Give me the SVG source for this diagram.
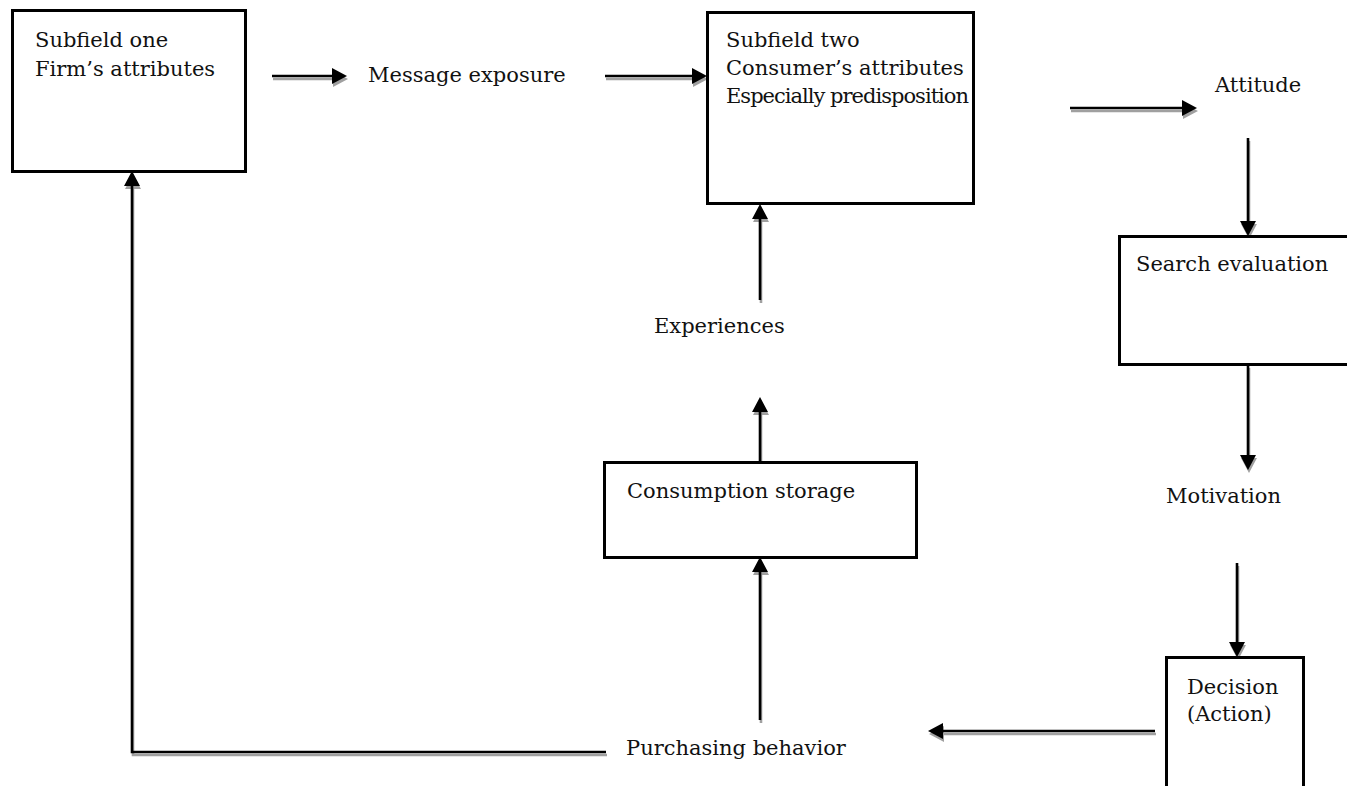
<svg xmlns="http://www.w3.org/2000/svg" width="1347" height="786" viewBox="0 0 1347 786">
  <style>
    .box { fill: #ffffff; stroke: #000000; stroke-width: 3; }
    .lbl { font-family: "DejaVu Serif", "Liberation Serif", serif; font-size: 21px; fill: #111111; }
    .line { fill: none; stroke: #000000; stroke-width: 2.6; }
    .shade { fill: none; stroke: #a0a0a0; stroke-width: 2.6; }
    .arrow { marker-end: url(#head); }
    .shade.arrow { marker-end: url(#headGray); }
  </style>
  <defs>
    <marker id="head" markerUnits="userSpaceOnUse" markerWidth="16" markerHeight="17" refX="1" refY="8" orient="auto" overflow="visible">
      <path d="M0,0 L15,8 L0,16 z" fill="#000000"/>
    </marker>
    <marker id="headGray" markerUnits="userSpaceOnUse" markerWidth="16" markerHeight="17" refX="1" refY="8" orient="auto" overflow="visible">
      <path d="M0,0 L15,8 L0,16 z" fill="#a0a0a0"/>
    </marker>
  </defs>

  <rect width="1347" height="786" fill="#ffffff"/>

  <!-- connectors: grey drop shadow first, black stroke on top -->
  <g id="connectors">
    <g id="shadows" transform="translate(1,3)">
      <path class="shade arrow" d="M272,76 H333"/>
      <path class="shade arrow" d="M605,76 H693"/>
      <path class="shade arrow" d="M1070,108 H1183"/>
      <path class="shade arrow" d="M1248,138 V222"/>
      <path class="shade arrow" d="M1248,365 V456"/>
      <path class="shade arrow" d="M1237,563 V643"/>
      <path class="shade arrow" d="M1155,731 H942"/>
      <path class="shade arrow" d="M760,720 V571"/>
      <path class="shade arrow" d="M760,462 V411"/>
      <path class="shade arrow" d="M760,300 V218"/>
      <path class="shade arrow" d="M606,752 H132 V185"/>
    </g>
    <g id="strokes">
      <path class="line arrow" d="M272,76 H333"/>
      <path class="line arrow" d="M605,76 H693"/>
      <path class="line arrow" d="M1070,108 H1183"/>
      <path class="line arrow" d="M1248,138 V222"/>
      <path class="line arrow" d="M1248,365 V456"/>
      <path class="line arrow" d="M1237,563 V643"/>
      <path class="line arrow" d="M1155,731 H942"/>
      <path class="line arrow" d="M760,720 V571"/>
      <path class="line arrow" d="M760,462 V411"/>
      <path class="line arrow" d="M760,300 V218"/>
      <path class="line arrow" d="M606,752 H132 V185"/>
    </g>
  </g>

  <g id="subfield-one">
    <rect class="box" x="12.5" y="10.5" width="233" height="161"/>
    <text class="lbl" x="35" y="47">Subfield one</text>
    <text class="lbl" x="35" y="76">Firm’s attributes</text>
  </g>

  <g id="message-exposure">
    <text class="lbl" x="368" y="82">Message exposure</text>
  </g>

  <g id="subfield-two">
    <rect class="box" x="707.5" y="12.5" width="266" height="191"/>
    <text class="lbl" x="726" y="47">Subfield two</text>
    <text class="lbl" x="726" y="75">Consumer’s attributes</text>
    <text class="lbl" x="726" y="103" textLength="243" lengthAdjust="spacing">Especially predisposition</text>
  </g>

  <g id="attitude">
    <text class="lbl" x="1215" y="92">Attitude</text>
  </g>

  <g id="search-evaluation">
    <rect class="box" x="1119.5" y="236.5" width="240" height="128"/>
    <text class="lbl" x="1136" y="271">Search evaluation</text>
  </g>

  <g id="motivation">
    <text class="lbl" x="1166" y="503">Motivation</text>
  </g>

  <g id="decision">
    <rect class="box" x="1166.5" y="657.5" width="137" height="140"/>
    <text class="lbl" x="1187" y="694">Decision</text>
    <text class="lbl" x="1187" y="721">(Action)</text>
  </g>

  <g id="purchasing-behavior">
    <text class="lbl" x="626" y="755">Purchasing behavior</text>
  </g>

  <g id="consumption-storage">
    <rect class="box" x="604.5" y="462.5" width="312" height="95"/>
    <text class="lbl" x="627" y="498">Consumption storage</text>
  </g>

  <g id="experiences">
    <text class="lbl" x="654" y="333">Experiences</text>
  </g>
</svg>
